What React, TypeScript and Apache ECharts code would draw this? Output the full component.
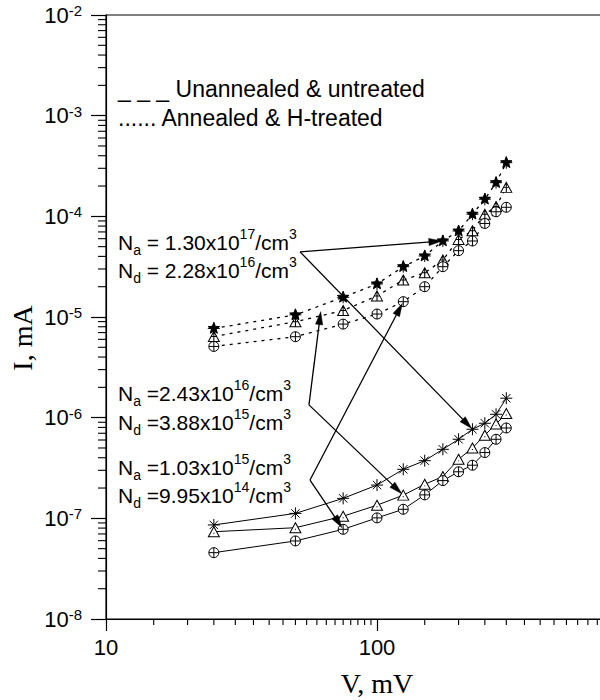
import React, { useEffect, useRef } from "react";
import * as echarts from "echarts";

// ---------- data ----------
const voltages = [25, 50, 75, 100, 125, 150, 175, 200, 225, 250, 275, 300];
// Unannealed & untreated (solid lines)
const untreatedStar = [8.6e-8, 1.12e-7, 1.58e-7, 2.14e-7, 3.07e-7, 3.74e-7, 4.85e-7, 6.1e-7, 7.67e-7, 8.8e-7, 1.08e-6, 1.56e-6];
const untreatedTriangle = [7.36e-8, 8.07e-8, 1.05e-7, 1.35e-7, 1.7e-7, 2.18e-7, 2.6e-7, 3.86e-7, 5.0e-7, 6.7e-7, 8.65e-7, 1.1e-6];
const untreatedCircle = [4.56e-8, 5.96e-8, 7.78e-8, 1.01e-7, 1.23e-7, 1.71e-7, 2.37e-7, 2.9e-7, 3.37e-7, 4.5e-7, 6.1e-7, 7.9e-7];
// Annealed & H-treated (dotted lines)
const treatedStar = [7.7e-6, 1.05e-5, 1.57e-5, 2.13e-5, 3.16e-5, 4.04e-5, 5.7e-5, 7.15e-5, 1.05e-4, 1.48e-4, 2.16e-4, 3.41e-4];
const treatedTriangle = [6.4e-6, 8.97e-6, 1.16e-5, 1.62e-5, 2.33e-5, 2.75e-5, 3.68e-5, 5.9e-5, 7.2e-5, 1.05e-4, 1.25e-4, 1.94e-4];
const treatedCircle = [5.1e-6, 6.37e-6, 8.5e-6, 1.07e-5, 1.42e-5, 2.0e-5, 3.16e-5, 4.56e-5, 5.69e-5, 8.5e-5, 1.11e-4, 1.23e-4];

const axisTitles = { x: "V, mV", y: "I, mA" };
const legendLabels = ["_ _ _ Unannealed & untreated", "...... Annealed & H-treated"];
// [Na mantissa, Na exponent, Nd mantissa, Nd exponent]
const dopingLabels = [
  ["1.30", "17", "2.28", "16"],
  ["2.43", "16", "3.88", "15"],
  ["1.03", "15", "9.95", "14"],
];
// arrow origins (data coordinates, next to each label)
const arrowOrigins = [
  [52, 4.44e-5],
  [56.1, 1.34e-6],
  [56.6, 2.4e-7],
];
const freeArrowTip = [62, 1.13e-5];

const xMajorTicks = [10, 100, 1000];
const minorMultipliers = [1.5, 2, 2.5, 3, 3.5, 4, 4.5, 5, 5.5, 6, 6.5, 7, 7.5, 8, 8.5, 9, 9.5];
const yDecades = [1e-8, 1e-7, 1e-6, 1e-5, 1e-4, 1e-3];
const yMinorMultipliers = [2, 3, 4, 5, 6, 7, 8, 9];

const xMinorTicks: number[] = [];
[10, 100].forEach((d) => minorMultipliers.forEach((m) => xMinorTicks.push(+(d * m).toPrecision(4))));
const yMinorTicks: number[] = [];
yDecades.forEach((d) => yMinorMultipliers.forEach((m) => yMinorTicks.push(+(d * m).toPrecision(3))));

const SANS = "'Liberation Sans', Arial, Helvetica, sans-serif";
const SERIF = "'Liberation Serif', 'Times New Roman', serif";

// ---------- symbols ----------
const SYM_ASTERISK = "path://M0,6L12,6M6,0L6,12M1.8,1.8L10.2,10.2M1.8,10.2L10.2,1.8";
const SYM_TRI_DOT = "path://M6,0L12,10L0,10ZM5.4,6.6L6.6,6.6";
const SYM_CIRCLE_PLUS = "path://M0,5A5,5,0,1,1,10,5A5,5,0,1,1,0,5ZM0,5L10,5M5,0L5,10";
const SYM_STAR =
  "path://M6,0L7.53,3.9L11.71,4.15L8.47,6.8L9.53,10.85L6,8.6L2.47,10.85L3.53,6.8L0.29,4.15L4.47,3.9ZM0,6L12,6M6,0L6,12";
const SYM_TRI_TENT = "path://M6,0L12,10L0,10ZM6,0L6,10M3,5L9,5";

function makeSeries(
  name: string,
  values: number[],
  symbol: string,
  size: number | number[],
  fill: string,
  dashed: boolean
) {
  return {
    name,
    type: "line",
    data: voltages.map((v, i) => [v, values[i]]),
    symbol,
    symbolSize: size,
    showSymbol: true,
    lineStyle: { color: "#000", width: dashed ? 1.3 : 1, type: dashed ? [3, 5] : "solid" },
    itemStyle: { color: fill, borderColor: "#000", borderWidth: 1 },
    emphasis: { disabled: true },
    z: 3,
  };
}

function tickSeries(values: number[][], kind: "x" | "y") {
  return {
    type: "custom",
    silent: true,
    clip: false,
    z: 4,
    data: values,
    renderItem: (_p: any, api: any) => {
      const p = api.coord([api.value(0), api.value(1)]);
      if (kind === "x") {
        return { type: "line", shape: { x1: p[0], y1: p[1], x2: p[0], y2: p[1] + 6 }, style: { stroke: "#000", lineWidth: 1.1 } };
      }
      return { type: "line", shape: { x1: p[0] - 8, y1: p[1], x2: p[0], y2: p[1] }, style: { stroke: "#000", lineWidth: 1.1 } };
    },
  };
}

const richText = {
  n: { fontSize: 21, fontFamily: SANS, fill: "#000", color: "#000", lineHeight: 30, verticalAlign: "middle" },
  sub: { fontSize: 14, fontFamily: SANS, fill: "#000", color: "#000", lineHeight: 14, verticalAlign: "bottom" },
  sup: { fontSize: 14, fontFamily: SANS, fill: "#000", color: "#000", lineHeight: 14, verticalAlign: "top" },
};

export default function App() {
  const ref = useRef<HTMLDivElement>(null);

  useEffect(() => {
    if (!ref.current) return;
    const chart = echarts.init(ref.current, undefined, { renderer: "svg" });

    const option: any = {
      animation: false,
      backgroundColor: "#fff",
      grid: {
        left: 106,
        top: 15,
        right: -48,
        bottom: 81,
        outerBoundsMode: "none",
        containLabel: false,
        show: true,
        borderColor: "#000",
        borderWidth: 1.2,
        backgroundColor: "transparent",
      },
      xAxis: {
        type: "log",
        logBase: 10,
        min: xMajorTicks[0],
        max: xMajorTicks[xMajorTicks.length - 1],
        splitNumber: 2,
        name: axisTitles.x,
        nameLocation: "middle",
        nameGap: 50,
        nameTextStyle: { fontFamily: SERIF, fontSize: 28, color: "#000" },
        axisLine: { lineStyle: { color: "#000", width: 1.2 } },
        axisTick: { length: 12, lineStyle: { color: "#000", width: 1.2 } },
        minorTick: { show: false },
        splitLine: { show: false },
        axisLabel: {
          margin: 17,
          fontFamily: SANS,
          fontSize: 22,
          color: "#000",
          showMaxLabel: false,
          formatter: (v: number) => (Math.round(v) >= 1000 ? "" : String(Math.round(v))),
        },
      },
      yAxis: {
        type: "log",
        logBase: 10,
        min: 1e-8,
        max: 1e-2,
        splitNumber: 6,
        axisLine: { lineStyle: { color: "#000", width: 1.2 } },
        axisTick: { length: 15, lineStyle: { color: "#000", width: 1.2 } },
        minorTick: { show: false },
        splitLine: { show: false },
        axisLabel: {
          margin: 24,
          formatter: (v: number) => `{b|10}{s|${Math.round(Math.log10(v))}}`,
          rich: {
            b: { fontFamily: SANS, fontSize: 22, color: "#000", lineHeight: 24, verticalAlign: "middle" },
            s: { fontFamily: SANS, fontSize: 15, color: "#000", lineHeight: 15, verticalAlign: "top" },
          },
        },
      },
      series: [
        makeSeries("untreated-star", untreatedStar, SYM_ASTERISK, 12, "#000", false),
        makeSeries("untreated-triangle", untreatedTriangle, SYM_TRI_DOT, [11, 10], "#fff", false),
        makeSeries("untreated-circle", untreatedCircle, SYM_CIRCLE_PLUS, 10, "#fff", false),
        makeSeries("treated-star", treatedStar, SYM_STAR, 12, "#000", true),
        makeSeries("treated-triangle", treatedTriangle, SYM_TRI_TENT, [11, 10], "#fff", true),
        makeSeries("treated-circle", treatedCircle, SYM_CIRCLE_PLUS, 10, "#fff", true),
        tickSeries(xMinorTicks.map((v) => [v, 1e-8]), "x"),
        tickSeries(yMinorTicks.map((v) => [10, v]), "y"),
      ],
    };
    chart.setOption(option);

    // ---------- annotations ----------
    const graphics: any[] = [];
    graphics.push({
      type: "text",
      x: 22,
      y: 338,
      rotation: Math.PI / 2,
      z: 10,
      style: { text: axisTitles.y, fontFamily: SERIF, fontSize: 28, fill: "#000", align: "center", verticalAlign: "middle" },
    });
    legendLabels.forEach((t, i) => {
      graphics.push({
        type: "text",
        x: 118,
        y: 89 + i * 29,
        z: 10,
        style: { text: t, fontFamily: SANS, fontSize: 23, fill: "#000", verticalAlign: "middle", align: "left" },
      });
    });
    const labelY = [[242, 270], [393, 422], [467, 495]];
    dopingLabels.forEach((d, i) => {
      const eq = i === 0 ? " = " : " =";
      graphics.push({
        type: "text",
        x: 118,
        y: labelY[i][0],
        z: 10,
        style: {
          text: `{n|N}{sub|a}{n|${eq}${d[0]}x10}{sup|${d[1]}}{n|/cm}{sup|3}`,
          rich: richText,
          verticalAlign: "middle",
          align: "left",
        },
      });
      graphics.push({
        type: "text",
        x: 118,
        y: labelY[i][1],
        z: 10,
        style: {
          text: `{n|N}{sub|d}{n|${eq}${d[2]}x10}{sup|${d[3]}}{n|/cm}{sup|3}`,
          rich: richText,
          verticalAlign: "middle",
          align: "left",
        },
      });
    });

    const arrows: { from: number[]; to: number[]; back: number }[] = [
      { from: arrowOrigins[0], to: [voltages[6], treatedStar[6]], back: 1 },
      { from: arrowOrigins[0], to: [voltages[8], untreatedStar[8]], back: 1 },
      { from: arrowOrigins[1], to: freeArrowTip, back: 0 },
      { from: arrowOrigins[1], to: [voltages[4], untreatedTriangle[4]], back: 2 },
      { from: arrowOrigins[2], to: [voltages[4], treatedCircle[4]], back: 2 },
      { from: arrowOrigins[2], to: [voltages[2], untreatedCircle[2]], back: 2 },
    ];
    arrows.forEach((a) => {
      const p0 = chart.convertToPixel({ gridIndex: 0 } as any, a.from) as number[];
      const p1 = chart.convertToPixel({ gridIndex: 0 } as any, a.to) as number[];
      const dx = p1[0] - p0[0];
      const dy = p1[1] - p0[1];
      const L = Math.hypot(dx, dy) || 1;
      const ux = dx / L;
      const uy = dy / L;
      const tip = [p1[0] - ux * a.back, p1[1] - uy * a.back];
      const base = [tip[0] - ux * 13, tip[1] - uy * 13];
      const nx = -uy;
      const ny = ux;
      graphics.push({
        type: "line",
        z: 11,
        shape: { x1: p0[0], y1: p0[1], x2: base[0] + ux * 2, y2: base[1] + uy * 2 },
        style: { stroke: "#000", lineWidth: 1.3 },
      });
      graphics.push({
        type: "polygon",
        z: 11,
        shape: {
          points: [
            tip,
            [base[0] + nx * 3.6, base[1] + ny * 3.6],
            [base[0] - nx * 3.6, base[1] - ny * 3.6],
          ],
        },
        style: { fill: "#000", stroke: "#000", lineWidth: 0.5 },
      });
    });
    chart.setOption({ graphic: graphics });

    return () => {
      chart.dispose();
    };
  }, []);

  return (
    <div
      ref={ref}
      style={{ position: "absolute", left: 0, top: 0, width: 600, height: 700, overflow: "hidden", background: "#fff" }}
    />
  );
}
